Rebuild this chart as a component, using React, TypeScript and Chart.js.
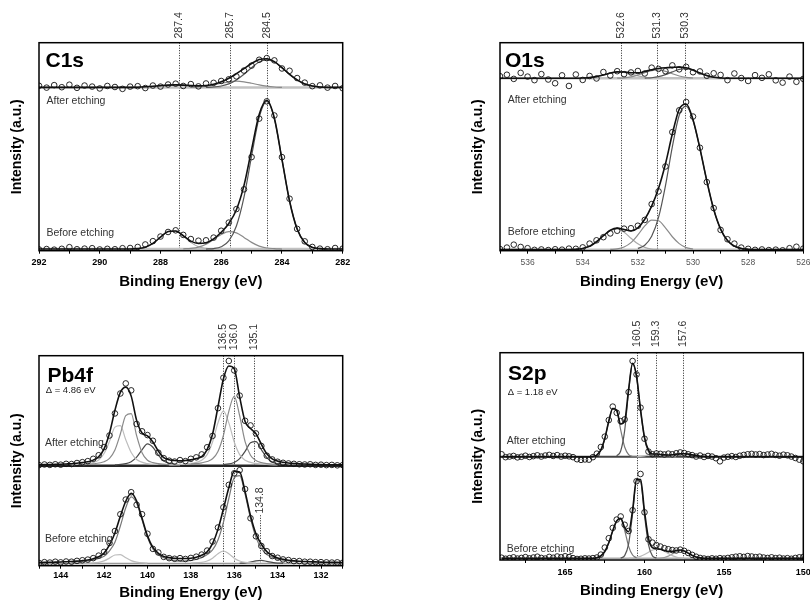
import React, { useEffect, useRef } from "react";
import { Chart, registerables } from "chart.js";

Chart.register(...registerables);

const FONT = "'Liberation Sans', Arial, Helvetica, sans-serif";

// ================= C1s =================
const c1sEnergy = [292, 291.75, 291.5, 291.25, 291, 290.75, 290.5, 290.25, 290, 289.75, 289.5, 289.25, 289, 288.75, 288.5, 288.25, 288, 287.75, 287.5, 287.25, 287, 286.75, 286.5, 286.25, 286, 285.75, 285.5, 285.25, 285, 284.75, 284.5, 284.25, 284, 283.75, 283.5, 283.25, 283, 282.75, 282.5, 282.25, 282];
const c1sBeforeCounts = [0.6, 0.8, 0.5, 0.9, 1.7, 0.7, 1.0, 1.2, 0.6, 0.9, 0.7, 1.2, 1.3, 1.8, 3.0, 4.6, 6.8, 9.0, 9.8, 7.6, 5.6, 4.8, 5.0, 6.3, 9.6, 13.5, 20.0, 29.5, 45.0, 63.5, 71.8, 65.0, 45.0, 25.0, 10.5, 4.5, 1.8, 1.0, 0.7, 1.3, 1.0];
const c1sBeforeEnvelope = [0.8, 0.8, 0.8, 0.8, 0.8, 0.8, 0.8, 0.8, 0.8, 0.8, 0.8, 0.8, 0.8, 1.0, 1.7, 3.5, 6.5, 9.2, 9.5, 7.2, 4.6, 3.5, 3.8, 5.7, 8.9, 13.1, 19.7, 31.4, 48.7, 65.5, 72.3, 63.7, 43.9, 23.9, 10.4, 3.9, 1.6, 1.0, 0.8, 0.8, 0.8];
const c1sAfterCounts = [79.3, 78.4, 79.6, 78.6, 79.8, 78.3, 79.4, 78.9, 78.0, 79.2, 78.7, 77.8, 78.9, 79.1, 78.2, 79.4, 78.9, 79.9, 80.3, 79.2, 80.1, 79.0, 80.4, 80.7, 81.6, 82.4, 83.8, 86.6, 89.0, 91.8, 92.6, 91.5, 87.6, 86.5, 83.0, 80.8, 79.1, 79.5, 78.4, 79.2, 78.1];
const c1sAfterEnvelope = [78.5, 78.5, 78.5, 78.5, 78.5, 78.5, 78.5, 78.5, 78.5, 78.5, 78.5, 78.5, 78.5, 78.6, 78.8, 79.05, 79.35, 79.6, 79.7, 79.6, 79.4, 79.25, 79.4, 80.0, 81.2, 82.9, 85.1, 87.5, 90.0, 91.9, 92.3, 90.9, 88.0, 84.8, 82.1, 80.2, 79.2, 78.7, 78.5, 78.5, 78.5];
// before-etching components
const c1sB845E = [286.5, 286.25, 286, 285.75, 285.5, 285.25, 285, 284.75, 284.5, 284.25, 284, 283.75, 283.5, 283.25, 283, 282.75, 282.5];
const c1sB845I = [0.8, 1.0, 1.9, 4.7, 11.9, 25.8, 45.5, 64.1, 71.8, 63.5, 43.9, 23.9, 10.4, 3.9, 1.6, 1.0, 0.8];
const c1sB857E = [287.25, 287, 286.75, 286.5, 286.25, 286, 285.75, 285.5, 285.25, 285, 284.75, 284.5, 284.25, 284];
const c1sB857I = [0.9, 1.1, 1.7, 3.1, 5.4, 7.8, 9.2, 8.55, 6.4, 4.0, 2.2, 1.3, 1.0, 0.8];
const c1sB874E = [289, 288.75, 288.5, 288.25, 288, 287.75, 287.5, 287.25, 287, 286.75, 286.5, 286.25];
const c1sB874I = [0.8, 1.0, 1.7, 3.5, 6.5, 9.2, 9.5, 7.1, 4.0, 1.9, 1.1, 0.8];
// after-etching components
const c1sA845E = [286.5, 286.25, 286, 285.75, 285.5, 285.25, 285, 284.75, 284.5, 284.25, 284, 283.75, 283.5, 283.25, 283, 282.75, 282.5];
const c1sA845I = [78.5, 78.7, 79.2, 80.2, 82.1, 84.8, 88.0, 90.7, 91.7, 90.7, 88.0, 84.8, 82.1, 80.2, 79.2, 78.7, 78.5];
const c1sA857E = [287, 286.75, 286.5, 286.25, 286, 285.75, 285.5, 285.25, 285, 284.75, 284.5, 284.25, 284];
const c1sA857I = [78.5, 78.7, 79.1, 79.7, 80.5, 81.2, 81.5, 81.2, 80.5, 79.7, 79.1, 78.7, 78.5];
const c1sA874E = [289, 288.75, 288.5, 288.25, 288, 287.75, 287.5, 287.25, 287, 286.75, 286.5, 286.25, 286];
const c1sA874I = [78.5, 78.6, 78.8, 79.05, 79.35, 79.6, 79.7, 79.6, 79.35, 79.05, 78.8, 78.6, 78.5];
const c1sBaselineLevels = [0.8, 78.5];
const c1sMarkers = [287.4, 285.7, 284.5];

// ================= O1s =================
const o1sEnergy = [537, 536.75, 536.5, 536.25, 536, 535.75, 535.5, 535.25, 535, 534.75, 534.5, 534.25, 534, 533.75, 533.5, 533.25, 533, 532.75, 532.5, 532.25, 532, 531.75, 531.5, 531.25, 531, 530.75, 530.5, 530.25, 530, 529.75, 529.5, 529.25, 529, 528.75, 528.5, 528.25, 528, 527.75, 527.5, 527.25, 527, 526.75, 526.5, 526.25, 526];
const o1sBeforeCounts = [0.8, 1.5, 2.9, 1.8, 1.2, 0.4, 0.6, 0.3, 0.7, 0.5, 1.0, 0.9, 1.6, 3.4, 5.0, 6.5, 8.3, 9.6, 10.6, 10.8, 12.0, 14.8, 22.4, 28.5, 40.5, 57.0, 67.5, 71.5, 64.5, 49.5, 33.0, 20.5, 10.0, 5.5, 3.4, 1.5, 0.9, 0.4, 0.6, 0.3, 0.5, 0.2, 1.2, 1.9, 1.0];
const o1sBeforeEnvelope = [0.5, 0.5, 0.5, 0.5, 0.5, 0.5, 0.5, 0.5, 0.5, 0.5, 0.5, 0.7, 1.1, 2.1, 4.3, 7.2, 9.8, 10.85, 10.2, 9.5, 11.0, 15.1, 21.4, 30.0, 41.7, 56.1, 68.0, 70.5, 63.0, 49.2, 33.6, 19.9, 10.4, 4.9, 2.2, 1.1, 0.7, 0.5, 0.5, 0.5, 0.5, 0.5, 0.5, 0.5, 0.5];
const o1sAfterCounts = [83.9, 84.6, 82.6, 85.5, 83.7, 82.0, 84.9, 82.3, 80.5, 84.3, 79.2, 84.7, 82.1, 84.0, 82.8, 85.9, 84.2, 86.3, 84.9, 85.7, 86.4, 85.2, 88.0, 87.4, 86.3, 89.1, 87.2, 88.4, 85.8, 86.2, 84.1, 85.3, 84.5, 82.0, 85.2, 83.0, 81.6, 84.4, 83.1, 84.8, 81.9, 80.8, 83.7, 81.2, 82.6];
const o1sAfterEnvelope = [82.9, 82.9, 82.9, 82.9, 82.9, 82.9, 82.9, 82.9, 82.9, 82.9, 82.9, 82.9, 83.0, 83.2, 83.7, 84.5, 85.4, 85.95, 85.9, 85.56, 85.53, 86.13, 87.02, 87.63, 87.97, 88.15, 88.26, 87.92, 86.88, 85.41, 84.18, 83.41, 83.06, 82.9, 82.9, 82.9, 82.9, 82.9, 82.9, 82.9, 82.9, 82.9, 82.9, 82.9, 82.9];
const o1sB303E = [532, 531.75, 531.5, 531.25, 531, 530.75, 530.5, 530.25, 530, 529.75, 529.5, 529.25, 529, 528.75, 528.5, 528.25, 528];
const o1sB303I = [1.1, 2.6, 6.9, 16.0, 31.2, 49.9, 65.1, 69.5, 62.7, 49.2, 33.6, 19.9, 10.4, 4.9, 2.2, 1.1, 0.7];
const o1sB313E = [533, 532.75, 532.5, 532.25, 532, 531.75, 531.5, 531.25, 531, 530.75, 530.5, 530.25, 530];
const o1sB313I = [0.6, 0.9, 1.8, 3.9, 7.6, 11.9, 14.7, 14.4, 11.0, 6.7, 3.4, 1.5, 0.8];
const o1sB326E = [534.5, 534.25, 534, 533.75, 533.5, 533.25, 533, 532.75, 532.5, 532.25, 532, 531.75, 531.5, 531.25];
const o1sB326I = [0.55, 0.7, 1.1, 2.1, 4.3, 7.2, 9.7, 10.45, 8.9, 6.0, 3.3, 1.6, 0.8, 0.6];
const o1sA303E = [531.75, 531.5, 531.25, 531, 530.75, 530.5, 530.25, 530, 529.75, 529.5, 529.25, 529];
const o1sA303I = [82.97, 83.16, 83.65, 84.63, 85.97, 87.15, 87.48, 86.74, 85.41, 84.18, 83.41, 83.06];
const o1sA313E = [532.75, 532.5, 532.25, 532, 531.75, 531.5, 531.25, 531, 530.75, 530.5, 530.25, 530];
const o1sA313I = [82.96, 83.12, 83.56, 84.4, 85.57, 86.59, 86.88, 86.24, 85.08, 84.01, 83.34, 83.04];
const o1sA326E = [534, 533.75, 533.5, 533.25, 533, 532.75, 532.5, 532.25, 532, 531.75, 531.5];
const o1sA326I = [83.0, 83.23, 83.73, 84.54, 85.41, 85.89, 85.67, 84.9, 84.03, 83.39, 83.07];
const o1sBaselineLevels = [0.5, 82.9];
const o1sMarkers = [532.6, 531.3, 530.3];

// ================= Pb4f =================
const pbEnergy = [145, 144.75, 144.5, 144.25, 144, 143.75, 143.5, 143.25, 143, 142.75, 142.5, 142.25, 142, 141.75, 141.5, 141.25, 141, 140.75, 140.5, 140.25, 140, 139.75, 139.5, 139.25, 139, 138.75, 138.5, 138.25, 138, 137.75, 137.5, 137.25, 137, 136.75, 136.5, 136.25, 136, 135.75, 135.5, 135.25, 135, 134.75, 134.5, 134.25, 134, 133.75, 133.5, 133.25, 133, 132.75, 132.5, 132.25, 132, 131.75, 131.5, 131.25, 131];
const pbAfterCounts = [47.9, 48.2, 48.0, 48.3, 48.1, 48.5, 48.4, 48.9, 49.3, 49.8, 50.9, 52.6, 56.5, 62.0, 72.5, 82.0, 86.8, 83.5, 67.5, 64.0, 62.2, 59.5, 53.8, 51.2, 50.0, 49.6, 50.3, 49.8, 50.9, 51.6, 53.0, 56.4, 61.8, 75.0, 89.5, 97.5, 93.0, 81.0, 69.0, 66.8, 63.0, 57.0, 52.4, 50.6, 49.5, 49.0, 48.7, 48.5, 48.3, 48.2, 48.3, 48.0, 48.1, 47.9, 48.0, 47.8, 47.9];
const pbAfterEnvelope = [48.05, 48.11, 48.17, 48.24, 48.31, 48.43, 48.56, 48.81, 49.09, 49.5, 50.27, 51.86, 55.65, 63.1, 74.0, 82.5, 85.05, 80.75, 69.2, 63.2, 61.8, 58.9, 54.6, 51.5, 50.5, 50.1, 49.9, 50.1, 50.4, 51.0, 51.9, 55.3, 62.6, 75.6, 88.9, 95.1, 93.8, 80.4, 68.7, 65.3, 62.9, 57.8, 53.3, 50.9, 49.8, 49.3, 48.9, 48.7, 48.5, 48.4, 48.3, 48.2, 48.13, 48.09, 48.05, 48.02, 48.0];
const pbBeforeCounts = [1.3, 1.7, 1.5, 1.9, 1.6, 2.0, 1.9, 2.3, 2.6, 2.9, 3.6, 4.8, 6.6, 10.8, 16.5, 24.5, 31.5, 35.0, 29.0, 24.5, 15.2, 8.0, 6.3, 4.2, 3.6, 3.3, 3.6, 3.2, 3.7, 4.3, 5.3, 7.2, 11.5, 18.2, 27.8, 38.5, 44.0, 45.5, 36.5, 22.6, 14.0, 9.4, 6.9, 4.6, 3.8, 3.0, 2.7, 2.2, 2.2, 1.9, 1.9, 1.7, 1.7, 1.6, 1.5, 1.6, 1.4];
const pbBeforeEnvelope = [1.52, 1.57, 1.62, 1.7, 1.77, 1.9, 2.03, 2.16, 2.42, 2.73, 3.31, 4.23, 6.0, 9.9, 15.6, 23.5, 30.7, 34.5, 30.8, 22.6, 14.2, 8.7, 5.9, 4.4, 3.85, 3.5, 3.43, 3.42, 3.57, 4.0, 4.95, 6.6, 10.5, 17.3, 27.0, 37.1, 44.9, 44.6, 35.3, 23.8, 15.2, 10.2, 6.7, 4.85, 3.66, 3.05, 2.6, 2.33, 2.13, 2.0, 1.88, 1.8, 1.69, 1.64, 1.6, 1.56, 1.52];
// after etching components (4f7/2 and 4f5/2)
const pbA360E = [138, 137.5, 137.25, 137, 136.75, 136.5, 136.25, 136, 135.75, 135.5, 135.25, 135, 134.75, 134.5, 134];
const pbA360I = [48.4, 49.0, 49.6, 50.9, 54.4, 62.0, 73.5, 80.6, 71.4, 59.1, 52.6, 50.1, 49.1, 48.6, 48.2];
const pbA365E = [139, 138.5, 138, 137.5, 137.25, 137, 136.75, 136.5, 136.25, 136, 135.75, 135.5, 135, 134.5, 134];
const pbA365I = [48.0, 48.2, 48.7, 50.2, 52.9, 58.9, 68.0, 73.6, 68.0, 58.9, 52.9, 50.2, 48.7, 48.2, 48.0];
const pbA351E = [136.5, 136, 135.75, 135.5, 135.25, 135, 134.75, 134.5, 134.25, 134, 133.5];
const pbA351I = [48.16, 49.16, 51.0, 54.4, 58.5, 59.1, 55.3, 51.5, 49.4, 48.6, 48.04];
const pbA409E = [143, 142.5, 142, 141.75, 141.5, 141.25, 141, 140.75, 140.5, 140.25, 140, 139.75, 139.5, 139, 138.5];
const pbA409I = [48.15, 48.54, 49.5, 51.1, 55.1, 62.7, 71.5, 72.4, 61.9, 53.8, 50.2, 49.1, 48.6, 48.15, 47.94];
const pbA414E = [143.5, 143, 142.5, 142.25, 142, 141.75, 141.5, 141.25, 141, 140.75, 140.5, 140, 139.5];
const pbA414I = [48.0, 48.3, 49.1, 50.3, 53.4, 59.2, 66.0, 66.7, 60.0, 53.9, 50.6, 48.6, 48.2];
const pbA400E = [141.5, 141, 140.75, 140.5, 140.25, 140, 139.75, 139.5, 139.25, 139, 138.5];
const pbA400I = [48.0, 48.6, 49.5, 51.7, 55.2, 58.0, 56.4, 52.7, 50.0, 48.8, 48.1];
// before etching components
const pbB359E = [138.5, 138, 137.5, 137, 136.75, 136.5, 136.25, 136, 135.75, 135.5, 135.25, 135, 134.75, 134.5, 134, 133.5, 133];
const pbB359I = [2.1, 2.55, 3.8, 7.5, 12.2, 20.6, 32.0, 41.9, 42.9, 34.1, 22.5, 13.5, 8.3, 5.3, 3.15, 2.33, 1.95];
const pbB365E = [138, 137.5, 137.25, 137, 136.75, 136.5, 136.25, 136, 135.75, 135.5, 135];
const pbB365I = [1.25, 1.6, 2.23, 3.6, 5.7, 7.0, 5.7, 3.6, 2.23, 1.6, 1.25];
const pbB348E = [135.75, 135.5, 135.25, 135, 134.75, 134.5, 134.25, 134, 133.75];
const pbB348I = [1.17, 1.36, 1.75, 2.28, 2.5, 2.07, 1.57, 1.26, 1.15];
const pbB407E = [143.5, 143, 142.5, 142, 141.75, 141.5, 141.25, 141, 140.75, 140.5, 140.25, 140, 139.75, 139.5, 139, 138.5];
const pbB407I = [1.74, 2.06, 2.76, 4.5, 7.1, 11.2, 18.9, 27.6, 32.8, 29.8, 21.8, 13.5, 8.0, 5.2, 2.9, 2.15];
const pbB414E = [143, 142.5, 142.25, 142, 141.75, 141.5, 141.25, 141, 140.75, 140.5, 140];
const pbB414I = [1.16, 1.33, 1.61, 2.3, 3.6, 5.1, 5.3, 3.8, 2.4, 1.67, 1.2];
const pbBaselineLevels = [1.0, 47.6];
const pbMarkers = [136.5, 136.0, 135.1, 134.8];

// ================= S2p =================
const s2Energy = [169, 168.75, 168.5, 168.25, 168, 167.75, 167.5, 167.25, 167, 166.75, 166.5, 166.25, 166, 165.75, 165.5, 165.25, 165, 164.75, 164.5, 164.25, 164, 163.75, 163.5, 163.25, 163, 162.75, 162.5, 162.25, 162, 161.75, 161.5, 161.25, 161, 160.75, 160.5, 160.25, 160, 159.75, 159.5, 159.25, 159, 158.75, 158.5, 158.25, 158, 157.75, 157.5, 157.25, 157, 156.75, 156.5, 156.25, 156, 155.75, 155.5, 155.25, 155, 154.75, 154.5, 154.25, 154, 153.75, 153.5, 153.25, 153, 152.75, 152.5, 152.25, 152, 151.75, 151.5, 151.25, 151, 150.75, 150.5, 150.25, 150];
const s2AfterCounts = [51.0, 49.6, 49.9, 50.2, 49.5, 49.8, 50.3, 49.7, 50.1, 50.5, 49.9, 50.4, 50.7, 50.2, 50.6, 49.9, 50.3, 50.0, 49.6, 48.6, 48.3, 48.5, 48.4, 49.6, 51.3, 54.5, 59.5, 67.5, 74.0, 71.0, 67.0, 67.8, 81.0, 96.0, 89.5, 73.5, 58.5, 52.3, 51.0, 51.4, 51.2, 50.9, 51.3, 51.0, 51.5, 51.9, 51.6, 51.0, 50.6, 49.9, 50.4, 49.7, 50.2, 49.9, 49.1, 47.6, 49.4, 49.8, 50.1, 49.7, 50.3, 50.7, 51.0, 51.2, 50.9, 51.1, 50.6, 50.9, 51.2, 50.7, 50.3, 50.8, 50.5, 49.9, 49.2, 48.4, 47.6];
const s2AfterEnvelope = [49.8, 49.8, 49.8, 49.8, 49.8, 49.8, 49.8, 49.8, 49.8, 49.8, 49.8, 49.8, 49.8, 49.8, 49.8, 49.8, 49.8, 49.8, 49.8, 49.8, 49.8, 49.8, 49.8, 49.95, 50.64, 53.0, 58.6, 66.9, 73.1, 72.2, 65.6, 67.1, 82.4, 94.85, 88.6, 72.5, 59.15, 53.0, 51.16, 51.12, 50.9, 50.7, 50.62, 50.76, 51.06, 51.25, 51.28, 51.07, 50.7, 50.35, 50.08, 49.92, 49.8, 49.8, 49.8, 49.8, 49.8, 49.8, 49.8, 49.8, 49.8, 49.8, 49.8, 49.8, 49.8, 49.8, 49.8, 49.8, 49.8, 49.8, 49.8, 49.8, 49.8, 49.8, 49.8, 49.8, 49.8];
const s2BeforeCounts = [1.1, 0.6, 0.9, 1.3, 0.7, 1.0, 1.4, 0.8, 1.2, 1.6, 1.0, 0.7, 1.5, 1.1, 1.7, 1.3, 1.8, 1.4, 0.9, 0.5, 0.6, 0.8, 0.7, 0.9, 1.2, 2.6, 6.0, 10.5, 15.5, 19.5, 21.0, 17.0, 14.0, 24.0, 38.0, 41.5, 23.0, 10.0, 8.4, 7.2, 6.5, 5.7, 5.2, 4.8, 4.6, 5.0, 4.4, 3.4, 2.5, 1.6, 1.0, 0.7, 0.5, 0.8, 0.6, 0.9, 0.7, 1.0, 1.3, 1.6, 1.8, 1.5, 1.9, 1.7, 1.4, 1.6, 1.2, 1.0, 1.3, 0.9, 1.1, 0.7, 0.9, 0.6, 1.0, 1.3, 1.5];
const s2BeforeEnvelope = [0.8, 0.8, 0.8, 0.8, 0.8, 0.8, 0.8, 0.8, 0.8, 0.8, 0.8, 0.8, 0.8, 0.8, 0.8, 0.8, 0.8, 0.8, 0.8, 0.8, 0.8, 0.8, 0.8, 0.8, 1.1, 1.95, 4.1, 8.3, 14.1, 18.9, 20.1, 15.6, 13.65, 24.06, 38.98, 38.77, 23.45, 10.36, 5.97, 5.42, 5.19, 4.62, 4.14, 4.16, 4.58, 4.82, 4.38, 3.33, 2.23, 1.42, 1.01, 0.86, 0.8, 0.8, 0.8, 0.8, 0.8, 0.8, 0.8, 0.8, 0.8, 0.8, 0.8, 0.8, 0.8, 0.8, 0.8, 0.8, 0.8, 0.8, 0.8, 0.8, 0.8, 0.8, 0.8, 0.8, 0.8];
const s2A607E = [161.75, 161.5, 161.25, 161, 160.75, 160.5, 160.25, 160, 159.75, 159.5, 159.25];
const s2A607I = [50.2, 52.6, 62.4, 81.3, 94.7, 88.5, 72.3, 58.7, 52.2, 50.23, 49.85];
const s2A619E = [163.5, 163.25, 163, 162.75, 162.5, 162.25, 162, 161.75, 161.5, 161.25, 161, 160.75, 160.5];
const s2A619I = [49.8, 49.95, 50.64, 53.0, 58.6, 66.9, 73.1, 71.8, 62.8, 54.5, 50.86, 49.94, 49.8];
const s2A593E = [160.5, 160.25, 160, 159.75, 159.5, 159.25, 159, 158.75, 158.5, 158.25, 158];
const s2A593I = [49.87, 50.0, 50.25, 50.6, 50.9, 51.0, 50.8, 50.46, 50.13, 49.93, 49.85];
const s2A576E = [159, 158.75, 158.5, 158.25, 158, 157.75, 157.5, 157.25, 157, 156.75, 156.5, 156.25, 156];
const s2A576I = [49.9, 50.04, 50.29, 50.63, 51.01, 51.25, 51.28, 51.07, 50.7, 50.35, 50.08, 49.92, 49.85];
const s2B604E = [161.5, 161.25, 161, 160.75, 160.5, 160.25, 160, 159.75, 159.5, 159.25];
const s2B604I = [0.9, 2.1, 7.8, 22.3, 38.3, 37.8, 21.6, 7.4, 2.0, 0.9];
const s2B616E = [163.25, 163, 162.75, 162.5, 162.25, 162, 161.75, 161.5, 161.25, 161, 160.75, 160.5];
const s2B616I = [0.8, 1.1, 1.95, 4.1, 8.3, 14.1, 18.9, 20.0, 14.3, 6.6, 2.4, 1.05];
const s2B592E = [161, 160.75, 160.5, 160.25, 160, 159.75, 159.5, 159.25, 159, 158.75, 158.5, 158.25, 158, 157.75, 157.5];
const s2B592I = [0.85, 0.96, 1.23, 1.77, 2.65, 3.76, 4.77, 5.29, 5.06, 4.2, 3.08, 2.09, 1.41, 1.04, 0.88];
const s2B577E = [159.25, 159, 158.75, 158.5, 158.25, 158, 157.75, 157.5, 157.25, 157, 156.75, 156.5, 156.25];
const s2B577I = [0.83, 0.93, 1.22, 1.86, 2.87, 3.97, 4.58, 4.3, 3.33, 2.23, 1.42, 1.01, 0.86];
const s2BaselineLevels = [0.8, 49.8];
const s2Markers = [160.5, 159.3, 157.6];

// ================= chart building =================
type Curve = { e: number[]; v: number[]; color: string; width: number };
type Marker = { value: number; from: number; to: number; gap: number };
type Note = { text: string; x: number; y: number; size: number; bold?: boolean; color: string };
type Spec = {
  xMin: number; xMax: number; step: number; majors: number[];
  tickSize: number; tickBold: boolean; tickColor: string;
  padTop: number; padRight: number; yAxisWidth: number; xAxisHeight: number;
  tickPad: number; xTitlePad: number; yTitlePad: number;
  counts: { e: number[]; v: number[] }[];
  curves: Curve[];
  baselines: { level: number; color: string; width: number }[];
  markers: Marker[];
  notes: Note[];
};

const ENV = "#111111";
const cv = (e: number[], v: number[], color: string, width = 1.2): Curve => ({ e, v, color, width });

const c1sSpec: Spec = {
  xMin: 282, xMax: 292, step: 1, majors: [282, 284, 286, 288, 290, 292],
  tickSize: 9, tickBold: true, tickColor: "#000",
  padTop: 42.7, padRight: 62.3, yAxisWidth: 39, xAxisHeight: 49.3,
  tickPad: 4.3, xTitlePad: 11, yTitlePad: 9.7,
  counts: [{ e: c1sEnergy, v: c1sBeforeCounts }, { e: c1sEnergy, v: c1sAfterCounts }],
  curves: [
    cv(c1sEnergy, c1sBeforeEnvelope, ENV, 1.6), cv(c1sEnergy, c1sAfterEnvelope, ENV, 1.6),
    cv(c1sB845E, c1sB845I, "#555"), cv(c1sB857E, c1sB857I, "#8a8a8a"), cv(c1sB874E, c1sB874I, "#aaaaaa"),
    cv(c1sA845E, c1sA845I, "#555"), cv(c1sA857E, c1sA857I, "#8a8a8a"), cv(c1sA874E, c1sA874I, "#aaaaaa"),
  ],
  baselines: c1sBaselineLevels.map((level) => ({ level, color: "#c2c2c2", width: 2.5 })),
  markers: c1sMarkers.map((value) => ({ value, from: 0, to: 100, gap: 4.2 })),
  notes: [
    { text: "C1s", x: 45.5, y: 66.7, size: 21, bold: true, color: "#000" },
    { text: "After etching", x: 46.5, y: 103.5, size: 10.5, color: "#333" },
    { text: "Before etching", x: 46.5, y: 236, size: 10.5, color: "#333" },
  ],
};

const o1sSpec: Spec = {
  xMin: 526, xMax: 537, step: 1, majors: [526, 528, 530, 532, 534, 536],
  tickSize: 8.5, tickBold: false, tickColor: "#555",
  padTop: 42.7, padRight: 6.7, yAxisWidth: 95, xAxisHeight: 49.3,
  tickPad: 4.75, xTitlePad: 11, yTitlePad: 66.3,
  counts: [{ e: o1sEnergy, v: o1sBeforeCounts }, { e: o1sEnergy, v: o1sAfterCounts }],
  curves: [
    cv(o1sEnergy, o1sBeforeEnvelope, ENV, 1.6), cv(o1sEnergy, o1sAfterEnvelope, ENV, 1.6),
    cv(o1sB303E, o1sB303I, "#555"), cv(o1sB313E, o1sB313I, "#8a8a8a"), cv(o1sB326E, o1sB326I, "#aaaaaa"),
    cv(o1sA303E, o1sA303I, "#555"), cv(o1sA313E, o1sA313I, "#8a8a8a"), cv(o1sA326E, o1sA326I, "#aaaaaa"),
  ],
  baselines: o1sBaselineLevels.map((level) => ({ level, color: "#c2c2c2", width: 2.5 })),
  markers: o1sMarkers.map((value) => ({ value, from: 0, to: 100, gap: 4.2 })),
  notes: [
    { text: "O1s", x: 100, y: 66.7, size: 21, bold: true, color: "#000" },
    { text: "After etching", x: 102.7, y: 103.3, size: 10.5, color: "#333" },
    { text: "Before etching", x: 102.7, y: 234.5, size: 10.5, color: "#333" },
  ],
};

const pbSpec: Spec = {
  xMin: 131, xMax: 145, step: 1, majors: [132, 134, 136, 138, 140, 142, 144],
  tickSize: 9, tickBold: true, tickColor: "#000",
  padTop: 55.7, padRight: 62.3, yAxisWidth: 39, xAxisHeight: 35.3,
  tickPad: 2.5, xTitlePad: 0.8, yTitlePad: 9.7,
  counts: [{ e: pbEnergy, v: pbBeforeCounts }, { e: pbEnergy, v: pbAfterCounts }],
  curves: [
    cv(pbEnergy, pbBeforeEnvelope, ENV, 1.6), cv(pbEnergy, pbAfterEnvelope, ENV, 1.6),
    cv(pbA360E, pbA360I, "#8a8a8a"), cv(pbA365E, pbA365I, "#bdbdbd"), cv(pbA351E, pbA351I, "#4a4a4a"),
    cv(pbA409E, pbA409I, "#8a8a8a"), cv(pbA414E, pbA414I, "#bdbdbd"), cv(pbA400E, pbA400I, "#4a4a4a"),
    cv(pbB359E, pbB359I, "#777"), cv(pbB365E, pbB365I, "#bdbdbd"), cv(pbB348E, pbB348I, "#4a4a4a"),
    cv(pbB407E, pbB407I, "#777"), cv(pbB414E, pbB414I, "#bdbdbd"),
  ],
  baselines: [
    { level: pbBaselineLevels[0], color: "#999", width: 1.5 },
    { level: pbBaselineLevels[1], color: "#262626", width: 2.6 },
  ],
  markers: [
    { value: pbMarkers[0], from: 0, to: 100, gap: 5.5 },
    { value: pbMarkers[1], from: 0, to: 100, gap: 5.5 },
    { value: pbMarkers[2], from: pbBaselineLevels[1], to: 100, gap: 5.5 },
    { value: pbMarkers[3], from: 0, to: 24, gap: 1.7 },
  ],
  notes: [
    { text: "Pb4f", x: 47.5, y: 81.5, size: 21, bold: true, color: "#000" },
    { text: "\u0394 = 4.86 eV", x: 45.7, y: 92.5, size: 9.5, color: "#222" },
    { text: "After etching", x: 45, y: 146, size: 10.5, color: "#333" },
    { text: "Before etching", x: 45, y: 241.7, size: 10.5, color: "#333" },
  ],
};

const s2Spec: Spec = {
  xMin: 150, xMax: 169.1, step: 2.5, majors: [150, 155, 160, 165],
  tickSize: 9, tickBold: true, tickColor: "#000",
  padTop: 52.7, padRight: 6.7, yAxisWidth: 95, xAxisHeight: 41,
  tickPad: 5.2, xTitlePad: 3, yTitlePad: 66.3,
  counts: [{ e: s2Energy, v: s2BeforeCounts }, { e: s2Energy, v: s2AfterCounts }],
  curves: [
    cv(s2Energy, s2BeforeEnvelope, ENV, 1.6), cv(s2Energy, s2AfterEnvelope, ENV, 1.6),
    cv(s2A607E, s2A607I, "#555"), cv(s2A619E, s2A619I, "#777"), cv(s2A593E, s2A593I, "#bbbbbb"), cv(s2A576E, s2A576I, "#999"),
    cv(s2B604E, s2B604I, "#555"), cv(s2B616E, s2B616I, "#777"), cv(s2B592E, s2B592I, "#bbbbbb"), cv(s2B577E, s2B577I, "#999"),
  ],
  baselines: [
    { level: s2BaselineLevels[0], color: "#aaa", width: 1.5 },
    { level: s2BaselineLevels[1], color: "#444", width: 2.2 },
  ],
  markers: s2Markers.map((value) => ({ value, from: 0, to: 100, gap: 5.8 })),
  notes: [
    { text: "S2p", x: 103, y: 80, size: 21, bold: true, color: "#000" },
    { text: "\u0394 = 1.18 eV", x: 102.7, y: 95, size: 9.5, color: "#222" },
    { text: "After etching", x: 101.7, y: 143.5, size: 10.5, color: "#333" },
    { text: "Before etching", x: 101.7, y: 252.3, size: 10.5, color: "#333" },
  ],
};

function makeConfig(spec: Spec): any {
  const datasets: any[] = [];
  spec.counts.forEach((c) =>
    datasets.push({
      data: c.e.map((x, i) => ({ x, y: c.v[i] })),
      showLine: false,
      pointStyle: "circle",
      pointRadius: 2.8,
      pointHoverRadius: 0,
      pointBorderWidth: 0.9,
      pointBorderColor: "#111",
      pointBackgroundColor: "rgba(255,255,255,0)",
      borderColor: "#111",
      backgroundColor: "rgba(0,0,0,0)",
    })
  );
  spec.curves.forEach((c) =>
    datasets.push({
      data: c.e.map((x, i) => ({ x, y: c.v[i] })),
      borderColor: c.color,
      borderWidth: c.width,
      pointRadius: 0,
      pointHoverRadius: 0,
      cubicInterpolationMode: "monotone",
      fill: false,
    })
  );
  spec.baselines.forEach((b) =>
    datasets.push({
      data: [{ x: spec.xMax, y: b.level }, { x: spec.xMin, y: b.level }],
      borderColor: b.color,
      borderWidth: b.width,
      pointRadius: 0,
      pointHoverRadius: 0,
      fill: false,
    })
  );

  const decor = {
    id: "xpsDecor",
    beforeDatasetsDraw(chart: any) {
      const { ctx, scales } = chart;
      ctx.save();
      ctx.strokeStyle = "#222";
      ctx.lineWidth = 1;
      ctx.setLineDash([1, 1.5]);
      spec.markers.forEach((m) => {
        const px = Math.round(scales.x.getPixelForValue(m.value)) + 0.5;
        ctx.beginPath();
        ctx.moveTo(px, scales.y.getPixelForValue(m.to));
        ctx.lineTo(px, scales.y.getPixelForValue(m.from));
        ctx.stroke();
      });
      ctx.restore();
    },
    afterDraw(chart: any) {
      const { ctx, chartArea, scales } = chart;
      ctx.save();
      ctx.strokeStyle = "#000";
      ctx.lineWidth = 1.5;
      ctx.strokeRect(chartArea.left, chartArea.top, chartArea.right - chartArea.left, chartArea.bottom - chartArea.top);
      // marker labels
      ctx.fillStyle = "#333";
      ctx.font = `10.5px ${FONT}`;
      ctx.textAlign = "left";
      ctx.textBaseline = "middle";
      spec.markers.forEach((m) => {
        const px = Math.round(scales.x.getPixelForValue(m.value)) + 0.5;
        const py = scales.y.getPixelForValue(m.to) - m.gap;
        ctx.save();
        ctx.translate(px, py);
        ctx.rotate(-Math.PI / 2);
        ctx.fillText(m.value.toFixed(1), 0, 0);
        ctx.restore();
      });
      // notes
      ctx.textBaseline = "alphabetic";
      spec.notes.forEach((n) => {
        ctx.fillStyle = n.color;
        ctx.font = `${n.bold ? "bold " : ""}${n.size}px ${FONT}`;
        ctx.fillText(n.text, n.x, n.y);
      });
      ctx.restore();
    },
  };

  return {
    type: "line",
    data: { datasets },
    plugins: [decor],
    options: {
      responsive: false,
      maintainAspectRatio: false,
      animation: false,
      devicePixelRatio: 1,
      events: [],
      layout: { padding: { left: 0, top: spec.padTop, right: spec.padRight, bottom: 0 } },
      plugins: { legend: { display: false }, tooltip: { enabled: false }, title: { display: false } },
      scales: {
        x: {
          type: "linear",
          min: spec.xMin,
          max: spec.xMax,
          reverse: true,
          afterFit: (s: any) => {
            s.height = spec.xAxisHeight;
            s.paddingLeft = 0;
            s.paddingRight = 0;
          },
          border: { display: false },
          grid: { display: true, drawOnChartArea: false, drawTicks: true, tickLength: 3, tickColor: "#000", tickWidth: 1 },
          ticks: {
            stepSize: spec.step,
            autoSkip: false,
            maxRotation: 0,
            minRotation: 0,
            includeBounds: false,
            padding: spec.tickPad,
            color: spec.tickColor,
            font: { family: FONT, size: spec.tickSize, weight: spec.tickBold ? "bold" : "normal", lineHeight: 1 },
            callback: (v: any) => (spec.majors.includes(Number(v)) ? String(v) : ""),
          },
          title: {
            display: true,
            text: "Binding Energy (eV)",
            color: "#000",
            font: { family: FONT, size: 15, weight: "bold", lineHeight: 1 },
            padding: { top: 0, bottom: spec.xTitlePad },
          },
        },
        y: {
          type: "linear",
          min: 0,
          max: 100,
          afterFit: (s: any) => {
            s.width = spec.yAxisWidth;
            s.paddingTop = 0;
            s.paddingBottom = 0;
          },
          border: { display: false },
          grid: { display: false },
          ticks: { display: false },
          title: {
            display: true,
            text: "Intensity (a.u.)",
            color: "#000",
            font: { family: FONT, size: 14, weight: "bold", lineHeight: 1 },
            padding: { top: spec.yTitlePad, bottom: 0 },
          },
        },
      },
    },
  };
}

function Panel({ spec, left, top, width, height }: { spec: Spec; left: number; top: number; width: number; height: number }) {
  const ref = useRef<HTMLCanvasElement | null>(null);
  useEffect(() => {
    if (!ref.current) return;
    const chart = new Chart(ref.current, makeConfig(spec));
    return () => chart.destroy();
  }, [spec]);
  return (
    <canvas
      ref={ref}
      width={width}
      height={height}
      style={{ position: "absolute", left, top, width, height, display: "block" }}
    />
  );
}

export default function App() {
  return (
    <div style={{ position: "absolute", left: 0, top: 0, width: 810, height: 601, background: "#fff", overflow: "hidden" }}>
      <Panel spec={c1sSpec} left={0} top={0} width={405} height={300} />
      <Panel spec={o1sSpec} left={405} top={0} width={405} height={300} />
      <Panel spec={pbSpec} left={0} top={300} width={405} height={301} />
      <Panel spec={s2Spec} left={405} top={300} width={405} height={301} />
    </div>
  );
}
